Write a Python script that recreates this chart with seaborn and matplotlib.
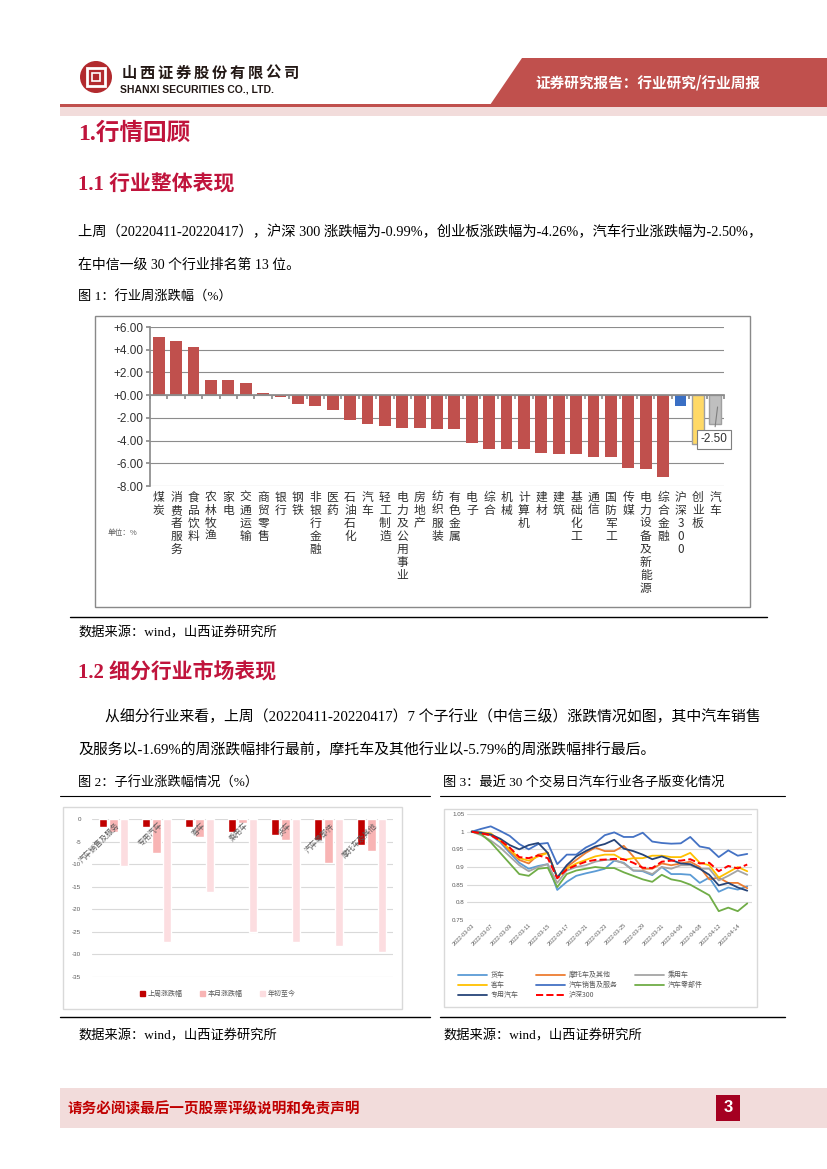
import numpy as np
import pandas as pd
import matplotlib
matplotlib.use("Agg")
import matplotlib.pyplot as plt
import matplotlib.patches as mpatches
import seaborn as sns

sns.set_theme(style="white")
plt.rcParams['font.family'] = ['Liberation Serif', 'Noto Sans CJK SC']
plt.rcParams['axes.unicode_minus'] = False

## Data: figure 1 (CITIC level-1 industries, weekly change %)
industries = ['煤炭', '消费者服务', '食品饮料', '农林牧渔', '家电', '交通运输', '商贸零售', '银行',
              '钢铁', '非银行金融', '医药', '石油石化', '汽车', '轻工制造', '电力及公用事业', '房地产',
              '纺织服装', '有色金属', '电子', '综合', '机械', '计算机', '建材', '建筑', '基础化工',
              '通信', '国防军工', '传媒', '电力设备及新能源', '综合金融', '沪深300', '创业板', '汽车']
weekly_chg = [5.12, 4.79, 4.23, 1.30, 1.30, 1.04, 0.15, -0.15, -0.74, -0.98, -1.30, -2.19, -2.50,
              -2.69, -2.90, -2.93, -2.96, -2.96, -4.20, -4.73, -4.73, -4.73, -5.09, -5.15, -5.15,
              -5.47, -5.47, -6.42, -6.50, -7.25, -0.99, -4.26, -2.50]

## Data: figure 2 (sub-industries)
sub_inds = ['汽车销售及服务', '专用汽车', '客车', '乘用车', '货车', '汽车零部件', '摩托车及其他']
week_chg = [-1.69, -1.75, -1.80, -2.90, -3.50, -4.60, -5.79]
month_chg = [-2.80, -7.50, -3.90, -0.80, -4.70, -9.80, -7.00]
ytd_chg = [-10.40, -27.20, -16.10, -25.10, -27.20, -28.10, -29.40]
fig2_series = ['上周涨跌幅', '本月涨跌幅', '年初至今']

## Data: figure 3 (last 30 trading days, normalised)
dates = ['2022-03-03', '2022-03-04', '2022-03-07', '2022-03-08', '2022-03-09', '2022-03-10',
         '2022-03-11', '2022-03-14', '2022-03-15', '2022-03-16', '2022-03-17', '2022-03-18',
         '2022-03-21', '2022-03-22', '2022-03-23', '2022-03-24', '2022-03-25', '2022-03-28',
         '2022-03-29', '2022-03-30', '2022-03-31', '2022-04-01', '2022-04-06', '2022-04-07',
         '2022-04-08', '2022-04-11', '2022-04-12', '2022-04-13', '2022-04-14', '2022-04-15']
truck = [1.000, 0.998, 0.990, 0.970, 0.940, 0.912, 0.895, 0.903, 0.908, 0.835, 0.858, 0.875, 0.882, 0.888, 0.895,
         0.918, 0.912, 0.890, 0.888, 0.877, 0.900, 0.880, 0.880, 0.878, 0.855, 0.870, 0.830, 0.842, 0.836, 0.845]
moto = [1.000, 0.995, 0.990, 0.975, 0.945, 0.920, 0.910, 0.935, 0.940, 0.870, 0.900, 0.920, 0.940, 0.955, 0.945,
        0.945, 0.960, 0.930, 0.895, 0.895, 0.910, 0.905, 0.910, 0.915, 0.900, 0.865, 0.870, 0.855, 0.855, 0.840]
passenger = [1.000, 0.990, 0.975, 0.955, 0.930, 0.905, 0.888, 0.900, 0.908, 0.855, 0.890, 0.900, 0.905, 0.915, 0.920,
             0.920, 0.910, 0.890, 0.890, 0.880, 0.900, 0.895, 0.905, 0.905, 0.895, 0.895, 0.862, 0.875, 0.890, 0.878]
bus = [1.000, 0.998, 0.995, 0.975, 0.950, 0.925, 0.918, 0.930, 0.940, 0.870, 0.895, 0.910, 0.920, 0.930, 0.935,
       0.935, 0.920, 0.925, 0.925, 0.932, 0.932, 0.928, 0.928, 0.940, 0.912, 0.905, 0.870, 0.885, 0.900, 0.888]
sales_service = [1.000, 1.008, 1.015, 1.002, 0.988, 0.965, 0.950, 0.965, 0.968, 0.908, 0.935, 0.935, 0.955, 0.968, 0.990,
                 0.998, 0.985, 0.985, 0.997, 0.972, 0.968, 0.966, 0.967, 0.985, 0.958, 0.953, 0.928, 0.947, 0.932, 0.937]
parts = [1.000, 0.993, 0.970, 0.940, 0.910, 0.880, 0.875, 0.895, 0.898, 0.843, 0.880, 0.890, 0.895, 0.900, 0.897,
         0.897, 0.885, 0.875, 0.865, 0.858, 0.878, 0.865, 0.860, 0.850, 0.835, 0.820, 0.775, 0.785, 0.775, 0.797]
special = [1.000, 0.997, 0.992, 0.980, 0.962, 0.950, 0.962, 0.968, 0.940, 0.870, 0.905, 0.930, 0.945, 0.958, 0.965,
           0.977, 0.952, 0.945, 0.935, 0.922, 0.930, 0.920, 0.910, 0.908, 0.895, 0.878, 0.848, 0.855, 0.842, 0.833]
hs300 = [1.000, 0.995, 0.990, 0.975, 0.955, 0.928, 0.925, 0.933, 0.925, 0.868, 0.893, 0.905, 0.915, 0.920, 0.921,
         0.923, 0.922, 0.912, 0.898, 0.897, 0.915, 0.918, 0.918, 0.922, 0.910, 0.912, 0.888, 0.903, 0.896, 0.907]
fig3_names = ['货车', '摩托车及其他', '乘用车', '客车', '汽车销售及服务', '汽车零部件', '专用汽车', '沪深300']
fig3_values = [truck, moto, passenger, bus, sales_service, parts, special, hs300]
fig3_colors = ['#5B9BD5', '#ED7D31', '#A5A5A5', '#FFC000', '#4472C4', '#70AD47', '#264478', '#FF0000']

W, H = 827, 1169
CJK = ['Noto Sans CJK SC', 'DejaVu Sans']
SANS = ['Liberation Sans', 'Noto Sans CJK SC']
SERIF = ['Liberation Serif', 'Noto Sans CJK SC']
RED = '#C0143C'

fig = plt.figure(figsize=(W / 100, H / 100), dpi=100)
bg = fig.add_axes([0, 0, 1, 1])
bg.set_xlim(0, W)
bg.set_ylim(H, 0)
bg.axis('off')


def px_axes(x0, y0, x1, y1):
    return fig.add_axes([x0 / W, 1 - y1 / H, (x1 - x0) / W, (y1 - y0) / H])


## header
bg.add_patch(mpatches.Polygon([(522, 58), (827, 58), (827, 105), (490, 105)], closed=True,
                              facecolor='#C0504D', edgecolor='none'))
bg.add_patch(mpatches.Rectangle((60, 104), W - 60, 3, facecolor='#C0504D', edgecolor='none'))
bg.add_patch(mpatches.Rectangle((60, 107), W - 60, 9, facecolor='#F2DCDB', edgecolor='none'))
bg.add_patch(mpatches.Circle((96, 77), 16, facecolor='#B22A2E', edgecolor='none'))
bg.add_patch(mpatches.Rectangle((87, 68), 18, 18, facecolor='none', edgecolor='white', lw=2))
bg.add_patch(mpatches.Rectangle((92, 73), 8, 8, facecolor='#B22A2E', edgecolor='white', lw=1.2))
for i, ch in enumerate('山西证券股份有限公司'):
    bg.text(129 + 18 * i, 73, ch, fontsize=11, fontweight='bold', family=CJK, color='#231815',
            ha='center', va='center')
bg.text(120, 90, 'SHANXI SECURITIES CO., LTD.', fontsize=7.5, fontweight='bold', family=SANS,
        color='#231815', va='center')
bg.text(648, 82, '证券研究报告：行业研究/行业周报', fontsize=10.5, fontweight='bold', family=CJK,
        color='white', ha='center', va='center')

## body text
bg.text(78, 133, '1.行情回顾', fontsize=17, fontweight='bold', family=SERIF, color=RED, va='center')
bg.text(78, 185, '1.1 行业整体表现', fontsize=15, fontweight='bold', family=SERIF, color=RED, va='center')
bg.text(78, 232, '上周（20220411-20220417），沪深 300 涨跌幅为-0.99%，创业板涨跌幅为-4.26%，汽车行业涨跌幅为-2.50%，',
        fontsize=10.3, family=SERIF, color='black', va='center')
bg.text(78, 265, '在中信一级 30 个行业排名第 13 位。', fontsize=10, family=SERIF, color='black', va='center')
bg.text(78, 297, '图 1：行业周涨跌幅（%）', fontsize=9.5, family=SERIF, color='black', va='center')
bg.plot([70, 767], [617, 617], color='black', lw=1)
bg.text(78, 633, '数据来源：wind，山西证券研究所', fontsize=9.5, family=SERIF, color='black', va='center')
bg.text(78, 672, '1.2 细分行业市场表现', fontsize=15, fontweight='bold', family=SERIF, color=RED, va='center')
bg.text(105, 717, '从细分行业来看，上周（20220411-20220417）7 个子行业（中信三级）涨跌情况如图，其中汽车销售',
        fontsize=10.7, family=SERIF, color='black', va='center')
bg.text(78, 750, '及服务以-1.69%的周涨跌幅排行最前，摩托车及其他行业以-5.79%的周涨跌幅排行最后。',
        fontsize=10.7, family=SERIF, color='black', va='center')
bg.text(78, 783, '图 2：子行业涨跌幅情况（%）', fontsize=9.5, family=SERIF, color='black', va='center')
bg.text(443, 783, '图 3：最近 30 个交易日汽车行业各子版变化情况', fontsize=9.5, family=SERIF, color='black', va='center')
bg.plot([60, 430], [796, 796], color='black', lw=0.8)
bg.plot([440, 785], [796, 796], color='black', lw=0.8)
bg.plot([60, 430], [1017, 1017], color='black', lw=1)
bg.plot([440, 785], [1017, 1017], color='black', lw=1)
bg.text(78, 1036, '数据来源：wind，山西证券研究所', fontsize=9.5, family=SERIF, color='black', va='center')
bg.text(443, 1036, '数据来源：wind，山西证券研究所', fontsize=9.5, family=SERIF, color='black', va='center')

## footer
bg.add_patch(mpatches.Rectangle((60, 1088), W - 60, 40, facecolor='#F2DCDB', edgecolor='none'))
bg.text(68, 1108, '请务必阅读最后一页股票评级说明和免责声明', fontsize=10.5, fontweight='bold', family=CJK,
        color='#C00000', va='center')
bg.add_patch(mpatches.Rectangle((716, 1095), 24, 26, facecolor='#A50021', edgecolor='none'))
bg.text(728, 1108, '3', fontsize=12, fontweight='bold', family=SANS, color='white', ha='center', va='center')

## figure 1: weekly industry change
bg.add_patch(mpatches.Rectangle((95, 316), 655, 291, facecolor='white', edgecolor='#898989', lw=1))
ax1 = px_axes(150, 327, 724, 486)
pos = np.arange(len(industries))
bar_colors = ['#C0504D'] * 30 + ['#3A6FC4', '#FFD966', '#BFBFBF']
sns.barplot(x=pos, y=weekly_chg, color='#C0504D', width=0.68, saturation=1, ax=ax1)
for patch, c in zip(ax1.patches, bar_colors):
    patch.set_facecolor(c)
    patch.set_edgecolor('#A0A0A0' if c in ('#FFD966', '#BFBFBF') else 'none')
ax1.set_xlim(-0.5, len(industries) - 0.5)
ax1.set_ylim(-8, 6)
ax1.set_yticks(range(-8, 7, 2))
ax1.set_yticklabels([f'{v:+.2f}' for v in range(-8, 7, 2)], family=SANS, fontsize=8.5, color='#303030')
ax1.yaxis.grid(True, color='#8C8C8C', lw=0.8)
ax1.set_axisbelow(True)
for s in ['top', 'right']:
    ax1.spines[s].set_visible(False)
ax1.spines['left'].set_color('#8C8C8C')
ax1.spines['bottom'].set_color('#8C8C8C')
ax1.spines['bottom'].set_position(('data', 0))
ax1.set_xticks(np.arange(-0.5, len(industries), 1))
ax1.set_xticklabels([])
ax1.tick_params(axis='x', length=3, color='#8C8C8C', direction='out', bottom=True)
ax1.tick_params(axis='y', length=3, color='#8C8C8C', left=True, pad=2)
ax1.set_xlabel('')
for i, name in enumerate(industries):
    ax1.text(i, -8.4, '\n'.join(name), ha='center', va='top', fontsize=8.5, family=CJK,
             color='#303030', linespacing=1.0)
ax1.annotate('-2.50', xy=(32.15, -0.8), xytext=(31.9, -3.9), fontsize=8.5, family=SANS, color='#303030',
             ha='center', va='center',
             bbox=dict(boxstyle='square,pad=0.3', facecolor='white', edgecolor='#7F7F7F', lw=0.8),
             arrowprops=dict(arrowstyle='-', color='#7F7F7F', lw=0.8))
bg.text(108, 533, '单位：%', fontsize=5.5, family=CJK, color='#595959', va='center')

## figure 2: sub-industry changes
bg.add_patch(mpatches.Rectangle((63, 807), 339, 202, facecolor='white', edgecolor='#D9D9D9', lw=1))
df2 = pd.DataFrame({
    '子行业': sub_inds * 3,
    '指标': [fig2_series[0]] * 7 + [fig2_series[1]] * 7 + [fig2_series[2]] * 7,
    '涨跌幅': week_chg + month_chg + ytd_chg,
})
fig2_colors = ['#C00000', '#F8B4B4', '#FCDDE0']
ax2 = px_axes(92, 819, 393, 977)
sns.barplot(data=df2, x='子行业', y='涨跌幅', hue='指标', palette=fig2_colors, width=0.7, gap=0.2,
            saturation=1, legend=False, ax=ax2)
ax2.set_ylim(-35, 0)
ax2.set_yticks(range(-35, 1, 5))
ax2.set_yticklabels([str(v) for v in range(-35, 1, 5)], family=SANS, fontsize=4.5, color='#595959')
ax2.yaxis.grid(True, color='#D9D9D9', lw=0.8)
ax2.set_axisbelow(True)
sns.despine(ax=ax2, left=True, bottom=True)
ax2.set_xticks([])
ax2.set_xlabel('')
ax2.set_ylabel('')
ax2.tick_params(axis='y', length=0, pad=8)
for i, name in enumerate(sub_inds):
    ax2.text(i + 0.05, -0.6, name, rotation=45, rotation_mode='anchor', ha='right', va='top',
             fontsize=5.5, family=CJK, color='#595959')
h2 = [mpatches.Patch(color=c) for c in fig2_colors]
ax2.legend(h2, fig2_series, loc='center', bbox_to_anchor=(218 / W, 1 - 994 / H), bbox_transform=fig.transFigure,
           ncol=3, frameon=False, prop={'family': CJK, 'size': 5}, handlelength=0.7, handleheight=0.7,
           handletextpad=0.4, columnspacing=2.5, labelcolor='#595959')

## figure 3: sub-industry index over 30 trading days
bg.add_patch(mpatches.Rectangle((444, 809), 313, 198, facecolor='white', edgecolor='#D9D9D9', lw=1))
ax3 = px_axes(467, 814, 752, 920)
idx = np.arange(len(dates))
for name, vals, c in zip(fig3_names, fig3_values, fig3_colors):
    sns.lineplot(x=idx, y=vals, ax=ax3, color=c, lw=1.3 if name != '沪深300' else 1.4,
                 linestyle='--' if name == '沪深300' else '-', label=name, legend=False)
ax3.set_xlim(-0.5, len(dates) - 0.5)
ax3.set_ylim(0.75, 1.05)
yt = [0.75, 0.8, 0.85, 0.9, 0.95, 1.0, 1.05]
ax3.set_yticks(yt)
ax3.set_yticklabels(['0.75', '0.8', '0.85', '0.9', '0.95', '1', '1.05'], family=SANS, fontsize=4.5, color='#595959')
ax3.yaxis.grid(True, color='#D9D9D9', lw=0.8)
ax3.set_axisbelow(True)
sns.despine(ax=ax3, left=True, bottom=True)
ax3.set_xticks(idx[::2])
ax3.set_xticklabels(dates[::2], rotation=45, rotation_mode='anchor', ha='right', va='top',
                    family=SANS, fontsize=4, color='#595959')
ax3.tick_params(axis='both', length=0, pad=2)
ax3.set_xlabel('')
ax3.set_ylabel('')
lines = ax3.get_lines()
order = [0, 3, 6, 1, 4, 7, 2, 5]
ax3.legend([lines[k] for k in order], [fig3_names[k] for k in order], loc='upper left',
           bbox_to_anchor=(452 / W, 1 - 965 / H), bbox_transform=fig.transFigure, ncol=3, frameon=False,
           prop={'family': CJK, 'size': 5}, handlelength=4.2, handletextpad=0.5, columnspacing=2.5,
           labelspacing=0.3, labelcolor='#595959')

fig.savefig('out.png', dpi=100)
